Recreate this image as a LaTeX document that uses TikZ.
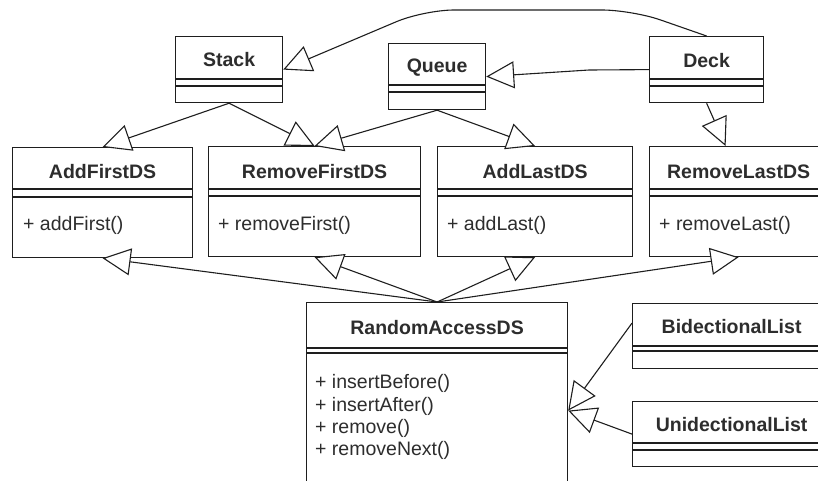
\documentclass[tikz,border=0pt]{standalone}
\usepackage{fontspec}
\setmainfont{Liberation Sans}
\usetikzlibrary{arrows.meta,calc}
\definecolor{ink}{RGB}{30,30,30}
\definecolor{txt}{RGB}{45,45,45}
\tikzset{
  umlbox/.style={draw=ink, line width=1.2pt, rectangle, anchor=north west, inner sep=0pt, fill=white},
  umltitle/.style={font=\fontsize{19.5}{22}\selectfont\bfseries, text=txt, inner sep=0pt},
  umlmeth/.style={font=\fontsize{19.5}{22}\selectfont, text=txt, inner sep=0pt, anchor=west},
  sepline/.style={draw=ink, line width=1.2pt},
  gen/.style={draw=ink, line width=1.1pt, -{Triangle[length=28pt, width=27pt, fill=white]}},
}
\newcommand\umlcls[9]{%
  \node[umlbox, minimum width=#4pt, minimum height=#5pt] (#1) at (#2,#3) {};
  \node[umltitle] (#1-title) at ([yshift=-#8pt]#1.north) {#9};
  \draw[sepline] ([yshift=-#6pt]#1.north west) -- ([yshift=-#6pt]#1.north east);
  \draw[sepline] ([yshift=-#7pt]#1.north west) -- ([yshift=-#7pt]#1.north east);
}
\begin{document}
\begin{tikzpicture}[x=1pt, y=-1pt]
  \useasboundingbox (0,0) rectangle (818,480);
  \clip (0,0) rectangle (818,480);

  % classes: name, x, y, w, h, line1, line2, title offset, title
  \umlcls{stack}{175}{36}{107}{66}{43}{50}{24}{Stack}
  \umlcls{queue}{388}{43}{97}{66}{42}{49}{25}{Queue}
  \umlcls{deck}{649}{36}{114}{66}{43}{50}{25}{Deck}
  \umlcls{addfirst}{12}{147}{180}{110}{42}{50}{25}{AddFirstDS}
  \umlcls{rf}{208}{146}{212}{110}{43}{50}{26}{RemoveFirstDS}
  \umlcls{al}{437}{146}{195}{110}{43}{50}{26}{AddLastDS}
  \umlcls{rl}{649}{146}{178}{110}{43}{50}{26}{RemoveLastDS}
  \umlcls{ra}{306}{302}{261}{216}{46}{51}{26}{RandomAccessDS}
  \umlcls{bl}{632}{303}{198}{65}{43}{48}{24}{BidectionalList}
  \umlcls{ul}{632}{401}{198}{65}{42}{49}{24}{UnidectionalList}

  % methods
  \node[umlmeth] (af-m1) at (23,225) {+ addFirst()};
  \node[umlmeth] (rf-m1) at (218,225) {+ removeFirst()};
  \node[umlmeth] (al-m1) at (447,225) {+ addLast()};
  \node[umlmeth] (rl-m1) at (659,225) {+ removeLast()};
  \node[umlmeth] (ra-m1) at (315,383) {+ insertBefore()};
  \node[umlmeth] (ra-m2) at (315,406) {+ insertAfter()};
  \node[umlmeth] (ra-m3) at (315,428) {+ remove()};
  \node[umlmeth] (ra-m4) at (315,450) {+ removeNext()};

  % generalizations
  \draw[gen] (stack.south) -- (addfirst.north);
  \draw[gen] (stack.south) -- (rf.north);
  \draw[gen] (queue.south) -- (rf.north);
  \draw[gen] (queue.south) -- (al.north);
  \draw[gen] (deck.south) -- ([xshift=-13pt]rl.north);
  \coordinate (qbend) at (589,70);
  \draw[gen] (deck.west) -- (qbend) -- (queue.east);
  \coordinate (bendR) at (632,10);
  \coordinate (bendL) at (424,10);
  \draw[gen, rounded corners=30pt] (deck.north) -- (bendR) -- (bendL) -- (stack.east);

  \draw[gen] (ra.north) -- (addfirst.south);
  \draw[gen] (ra.north) -- (rf.south);
  \draw[gen] (ra.north) -- (al.south);
  \draw[gen] (ra.north) -- (rl.south);
  \draw[gen] ([yshift=13pt]bl.west) -- (ra.east);
  \draw[gen] (ul.west) -- (ra.east);
\end{tikzpicture}
\end{document}
